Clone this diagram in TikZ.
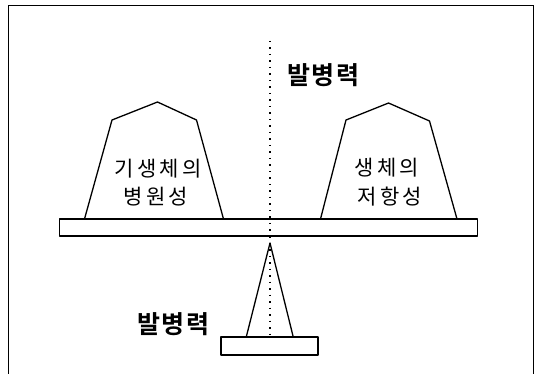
\documentclass[tikz,border=0pt]{standalone}
\usepackage{fontspec}
\newfontfamily\krfont[LetterSpace=15]{Noto Sans CJK KR}
\newfontfamily\krbold[LetterSpace=6]{Noto Sans CJK KR Bold}
\begin{document}
\begin{tikzpicture}[x=1pt,y=-1pt,
  outline/.style={draw=black,line width=1.3pt,line join=round},
  body/.style={font=\krfont\fontsize{21}{25}\selectfont,inner sep=0pt},
  label/.style={font=\krbold\fontsize{25}{29}\selectfont,inner sep=0pt},
  axis/.style={draw=black,line width=1.4pt,dash pattern=on 1.5pt off 5pt}]
\useasboundingbox (0,0) rectangle (538,374);
% frame
\draw[line width=1pt] (8.5,374) -- (8.5,6) -- (533,6) -- (533,374);
% mounds
\draw[outline] (84.5,219) -- (112,120) -- (157.5,102) -- (196.5,120) -- (223.5,219);
\draw[outline] (320.5,219) -- (346,120) -- (388.5,103) -- (429.5,121) -- (457,219);
% beam
\draw[outline] (59.5,219) rectangle (477.5,236);
% fulcrum
\draw[outline] (246.5,336) -- (270,243) -- (293,336);
\draw[outline] (221,337) rectangle (318,355);
% dotted axis
\coordinate (axtop) at (270,41);
\coordinate (axbot) at (270,336);
\draw[axis] (axtop) -- (axbot);
% texts
\node[body] (l1) at (158,169) {기생체의};
\node[body] (l2) at (156,197) {병원성};
\node[body] (r1) at (387,168) {생체의};
\node[body] (r2) at (390,197) {저항성};
\node[label] (top) at (323,75) {발병력};
\node[label] (bot) at (173,324) {발병력};
\end{tikzpicture}
\end{document}
